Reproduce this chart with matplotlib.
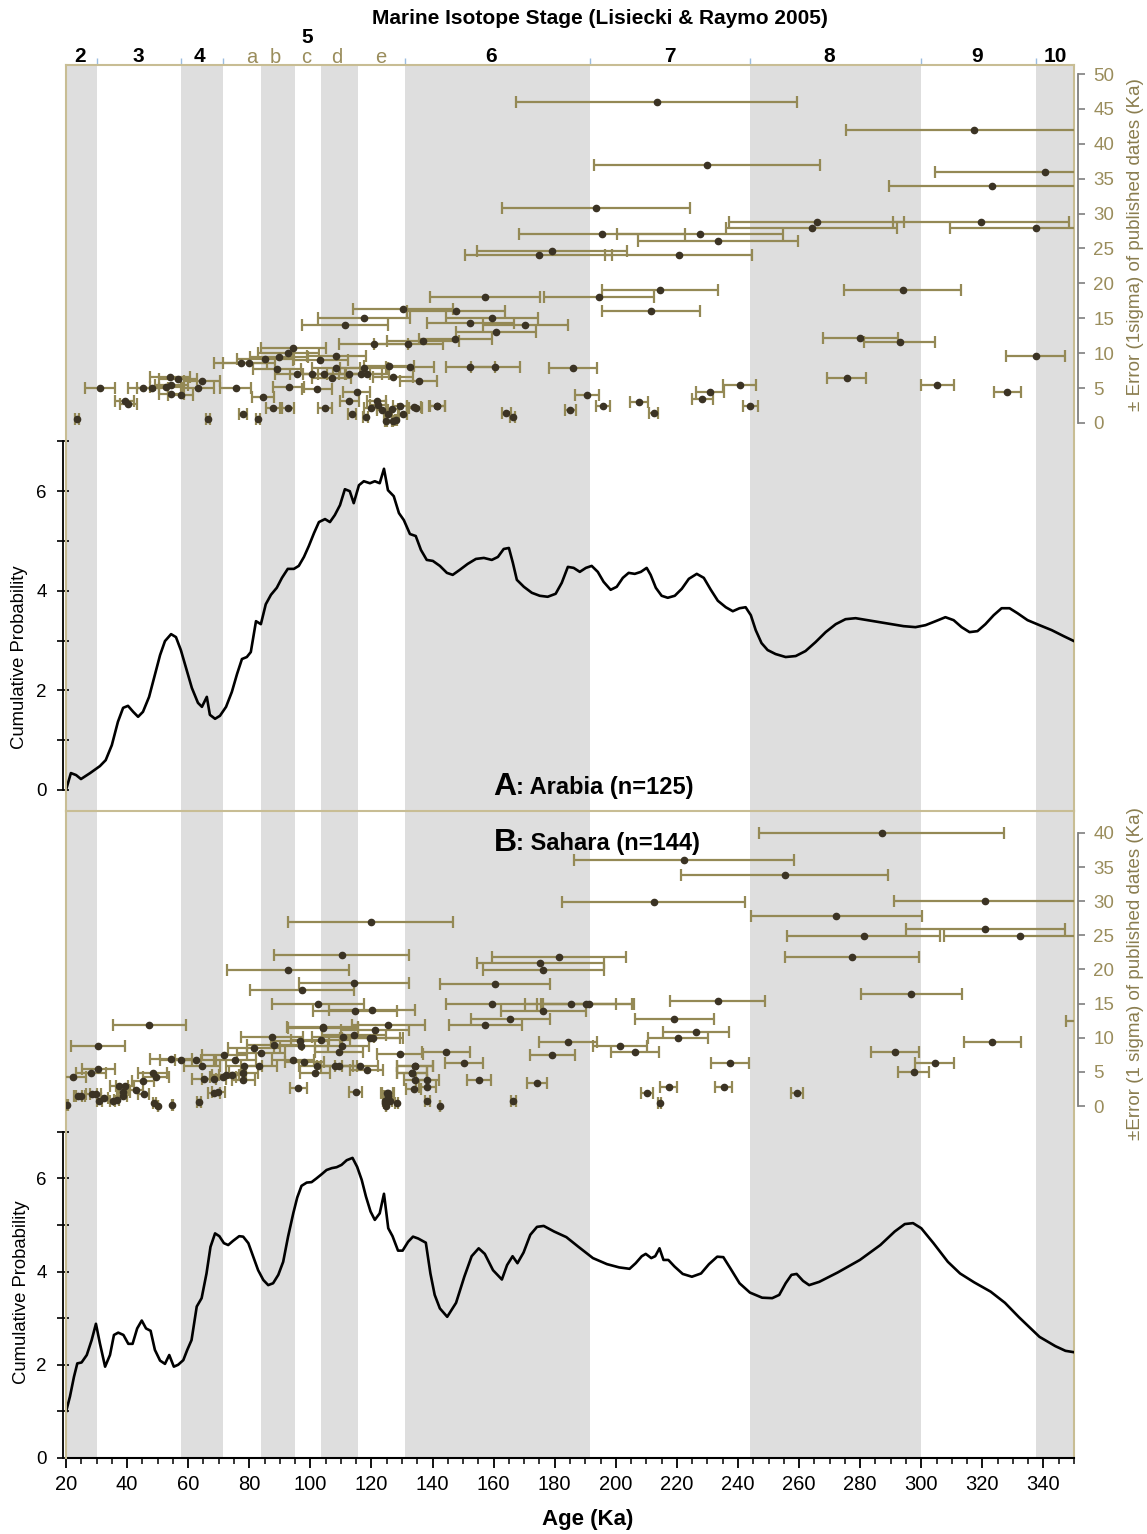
import matplotlib
matplotlib.use("Agg")
import matplotlib.pyplot as plt
import matplotlib.transforms as mtransforms

plt.rcParams['font.family'] = ['Liberation Sans', 'DejaVu Sans']

# --- cumulative probability curves (age Ka, probability) ---
age_a = [20, 21.6, 23.3, 24.9, 27.9, 31.1, 33, 35, 37, 38.7, 40.3, 42, 43.6, 45.2, 47.2, 49.1, 50.8,
         52.4, 54.4, 56, 57.6, 59.3, 61.2, 63.2, 64.5, 66.1, 67.1, 68.8, 70.4, 72.4, 74.3, 76, 77.6,
         79.2, 80.5, 82.2, 83.8, 85.4, 87.1, 89, 90.7, 92.6, 94.6, 96.2, 97.9, 99.5, 101.2, 102.8,
         104.8, 106.4, 108, 109.7, 111.3, 112.9, 114.2, 115.9, 117.5, 119.5, 121.1, 122.7, 124.1,
         125.4, 127.3, 129, 130.6, 132.6, 134.5, 136.2, 138.1, 140.1, 142.4, 144.7, 146.6, 148.9,
         151.5, 154.2, 156.8, 159.4, 161.4, 163.3, 165, 166.3, 167.6, 169.9, 172.5, 175.1, 177.7,
         180.3, 182.3, 184.3, 186.2, 188.2, 190.2, 192.1, 194.1, 196, 198.3, 200.3, 202.3, 204.2,
         206.2, 208.2, 210.1, 211.4, 213.1, 215, 217, 219.3, 221.6, 223.9, 226.5, 228.8, 231.1,
         233.4, 236, 238.3, 240.5, 242.5, 244.2, 245.8, 247.7, 249.7, 252.3, 255.6, 258.9, 262.1,
         265.4, 268.7, 272, 275.2, 278.5, 282.4, 286.4, 290.3, 294.2, 298.1, 301.4, 304.7, 307.9,
         310.6, 313.2, 315.8, 318.4, 321, 323.7, 326.3, 328.9, 331.5, 334.8, 338.7, 342.7, 346.6, 350]
prob_a = [0, 0.34, 0.3, 0.22, 0.34, 0.48, 0.6, 0.9, 1.37, 1.65, 1.69, 1.57, 1.47, 1.57, 1.87, 2.31, 2.71,
          2.99, 3.13, 3.07, 2.81, 2.45, 2.05, 1.75, 1.67, 1.87, 1.51, 1.43, 1.49, 1.67, 1.97, 2.33, 2.63,
          2.67, 2.77, 3.39, 3.33, 3.73, 3.92, 4.06, 4.26, 4.44, 4.44, 4.5, 4.68, 4.9, 5.16, 5.38,
          5.44, 5.38, 5.52, 5.72, 6.04, 6.0, 5.76, 6.12, 6.2, 6.16, 6.2, 6.16, 6.45,
          6.02, 5.9, 5.56, 5.42, 5.14, 5.1, 4.82, 4.62, 4.6, 4.5, 4.36, 4.32, 4.42,
          4.54, 4.64, 4.66, 4.62, 4.68, 4.84, 4.86, 4.56, 4.22, 4.08, 3.96, 3.9, 3.88,
          3.94, 4.16, 4.48, 4.46, 4.38, 4.46, 4.5, 4.38, 4.18, 4.02, 4.08, 4.26, 4.36,
          4.34, 4.38, 4.46, 4.32, 4.06, 3.9, 3.86, 3.9, 4.04, 4.24, 4.34, 4.26, 4.02,
          3.8, 3.67, 3.59, 3.65, 3.67, 3.51, 3.21, 2.95, 2.81, 2.73, 2.67, 2.69, 2.79,
          2.97, 3.17, 3.33, 3.43, 3.45, 3.41, 3.37, 3.33, 3.29, 3.27, 3.31, 3.39, 3.47,
          3.41, 3.27, 3.17, 3.19, 3.33, 3.51, 3.65, 3.65, 3.55, 3.41, 3.31, 3.21, 3.09, 2.99]

age_b = [20, 21.3, 22.6, 23.7, 25.1, 26.8, 28.4, 29.8, 31.1, 32.8, 34.4, 35.7, 37.1, 38.8, 40.4, 41.8,
         43.3, 44.8, 46.2, 47.7, 49.1, 50.8, 52.4, 53.8, 55.3, 56.7, 58.4, 59.7, 61.1, 62.8, 64.4, 66,
         67.3, 68.8, 70.2, 71.7, 73.1, 74.7, 76.7, 78, 79.7, 81.3, 82.9, 84.6, 86.2, 87.8, 89.5, 91.1,
         92.7, 94.4, 95.7, 97.1, 98.8, 100.4, 102, 103.7, 105.3, 107, 108.6, 110.2, 111.9, 113.8,
         115.3, 116.8, 118.2, 119.7, 121.1, 122.7, 124.1, 125.5, 126.9, 128.7, 130.2, 132, 133.6,
         135.3, 137.8, 139.3, 140.7, 142.4, 144.8, 147.7, 150.4, 152.8, 155.1, 157.1, 159.8, 162.7,
         164.4, 166.2, 167.8, 169.8, 172, 174.2, 176.4, 179.8, 183.8, 187.8, 192.5, 197.1, 201.1,
         204.5, 206.5, 208.5, 209.8, 211.6, 212.9, 214.3, 215.6, 217.2, 219.2, 221.9, 224.9, 227.9,
         230.5, 233.2, 235.2, 237.5, 240.5, 243.9, 247.9, 251.2, 253.5, 255.6, 257.5, 259.2, 261.3,
         263.3, 266.6, 272.6, 279.9, 286.6, 291.3, 294.6, 297.3, 300, 304, 308.7, 312.7, 317.3,
         322.7, 327.4, 332, 338.7, 343.9, 347.2, 350]
prob_b = [0.99, 1.32, 1.74, 2.03, 2.05, 2.21, 2.53, 2.88, 2.46, 1.96, 2.21, 2.64, 2.69, 2.64, 2.45, 2.45,
          2.78, 2.95, 2.78, 2.73, 2.32, 2.09, 2.02, 2.21, 1.96, 2.0, 2.1, 2.32, 2.53, 3.25, 3.43, 3.96,
          4.53, 4.82, 4.76, 4.61, 4.57, 4.66, 4.76, 4.75, 4.61, 4.32, 4.03, 3.82, 3.71, 3.75, 3.93, 4.21,
          4.75, 5.25, 5.59, 5.84, 5.91, 5.92, 6.0, 6.09, 6.18, 6.22, 6.24, 6.29, 6.39, 6.44,
          6.25, 5.97, 5.61, 5.29, 5.11, 5.25, 5.67, 4.93, 4.76, 4.45, 4.45, 4.64, 4.75,
          4.71, 4.62, 3.96, 3.5, 3.21, 3.03, 3.33, 3.89, 4.33, 4.5, 4.38, 4.03, 3.83,
          4.14, 4.33, 4.18, 4.41, 4.79, 4.96, 4.98, 4.86, 4.74, 4.53, 4.29, 4.16, 4.09,
          4.06, 4.18, 4.33, 4.38, 4.29, 4.33, 4.5, 4.25, 4.25, 4.11, 3.95, 3.89, 3.96,
          4.16, 4.32, 4.31, 4.07, 3.75, 3.55, 3.44, 3.43, 3.5, 3.75, 3.93, 3.95, 3.8,
          3.71, 3.78, 3.98, 4.25, 4.57, 4.86, 5.02, 5.04, 4.93, 4.61, 4.21, 3.96, 3.77,
          3.57, 3.33, 3.02, 2.6, 2.4, 2.3, 2.27]

# --- published dates: age (Ka) and 1 sigma error (Ka) ---
date_a = [213.4, 317.4, 340.4, 229.8, 323.3, 193.4, 265.7, 264.1, 319.4, 337.4, 195.4, 227.5, 233.4,
          179.0, 174.8, 220.6, 293.9, 214.6, 194.5, 157.2, 211.6, 130.2, 147.6, 159.4, 152.4, 170.4,
          160.9, 136.8, 147.5, 132.0, 120.7, 111.4, 117.5, 280.1, 292.9, 337.4, 275.6, 305.3, 328.2,
          240.5, 230.9, 228.3, 207.6, 212.4, 195.8, 185.1, 244.0, 141.6, 164.2, 166.2, 190.6, 125.8,
          132.6, 152.4, 160.5, 186.1, 127.1, 135.5,
          31.2, 23.5, 39.3, 40.4, 45.3, 48.3, 54.0, 56.6, 52.7, 54.4, 54.4, 57.5, 64.5, 63.3, 66.4,
          75.5, 77.9, 82.9, 77.2, 79.9, 85.3, 89.0, 89.7, 92.7, 94.4, 84.5, 87.8, 92.7, 92.9, 95.5,
          100.4, 102.2, 103.3, 104.5, 107.0, 108.5, 108.5, 104.8, 112.6, 116.5, 117.5, 118.6, 115.2,
          112.7, 113.5, 118.1, 121.7, 122.0, 119.7, 123.6, 125.3, 124.7, 126.9, 128.0, 126.6, 129.3,
          130.2, 134.0, 134.5, 141.5]
err_a = [46.0, 42.0, 36.0, 37.0, 34.0, 30.8, 28.8, 27.9, 28.8, 27.9, 27.1, 27.1, 26.1,
         24.6, 24.1, 24.1, 19.1, 19.0, 18.0, 18.0, 16.0, 16.4, 16.1, 15.1, 14.3, 14.0,
         13.1, 11.8, 12.0, 11.3, 11.3, 14.0, 15.1, 12.2, 11.6, 9.6, 6.4, 5.4, 4.4,
         5.5, 4.5, 3.4, 3.0, 1.5, 2.4, 1.9, 2.5, 2.5, 1.4, 0.8, 4.0, 8.2,
         8.0, 8.0, 8.0, 7.9, 6.6, 6.0,
         5.0, 0.6, 3.1, 2.7, 5.0, 5.0, 6.6, 6.3, 5.1, 5.4, 4.1, 4.0, 6.0, 5.0, 0.6,
         5.0, 1.3, 0.6, 8.6, 8.6, 9.2, 7.8, 9.4, 10.0, 10.7, 3.7, 2.2, 2.1, 5.1, 7.0,
         7.0, 4.8, 9.0, 7.0, 6.4, 9.6, 7.9, 2.2, 7.0, 7.0, 7.9, 7.0, 4.4,
         3.1, 1.3, 0.9, 3.2, 2.6, 2.2, 1.9, 1.3, 0.3, 0.3, 0.4, 2.0, 2.4,
         1.3, 2.3, 2.2, 2.5]

date_b = [287.0, 222.2, 255.3, 212.4, 321.0, 272.2, 281.1, 321.0, 332.2, 277.3, 181.3, 175.3, 176.3,
          296.8, 233.3, 291.3, 323.3, 297.5, 304.4, 360.0, 237.3,
          160.4, 159.4, 185.2, 190.4, 191.1, 176.3, 165.5, 157.3, 219.2, 226.3, 220.3, 184.4, 201.3,
          206.3, 179.2, 129.4, 144.3, 150.3, 125.5, 134.4, 133.3, 134.4, 138.3, 133.8, 138.3, 155.2,
          174.3, 217.3, 235.3, 210.3, 259.3, 214.4, 166.4, 138.3, 142.3, 125.4, 124.4, 128.2,
          20.4, 22.2, 30.6, 47.3, 30.6, 28.2, 24.0, 24.8, 28.4, 29.8, 30.9, 32.5, 35.3, 36.6, 37.3,
          39.3, 38.8, 38.6, 42.9, 45.3, 45.5, 48.4, 49.5, 48.9, 50.2, 54.8, 54.4, 57.5, 62.4, 64.6,
          63.6, 65.3, 68.4, 71.5, 69.8, 68.5, 71.8, 75.3, 72.3, 74.5, 78.1, 78.1, 78.3, 83.3, 83.8,
          88.1, 96.9, 94.4, 98.0, 102.1, 104.2, 114.6, 110.4, 109.4, 114.2, 119.5, 120.4, 101.5,
          108.0, 109.4, 116.2, 118.4, 96.1, 114.8, 125.1, 125.5, 124.4, 124.7, 126.0, 133.4, 134.2,
          119.8, 92.6, 110.3, 97.2, 114.2, 102.5, 120.1, 104.1, 110.6, 121.1, 103.4, 96.6, 81.5, 87.4]
err_b = [40.0, 36.0, 33.8, 29.9, 30.0, 27.9, 24.9, 25.9, 24.9, 21.9, 21.9, 20.9, 19.9,
         16.4, 15.4, 7.9, 9.4, 5.0, 6.3, 12.5, 6.3,
         17.9, 14.9, 14.9, 14.9, 14.9, 13.9, 12.8, 11.9, 12.8, 10.9, 9.9, 9.4, 8.8,
         7.9, 7.4, 7.6, 7.9, 6.3, 11.9, 5.9, 4.8, 3.8, 3.8, 2.5, 2.8, 3.8,
         3.3, 2.8, 2.8, 1.9, 1.9, 0.5, 0.8, 0.8, 0.0, 1.9, 0.7, 0.5,
         0.1, 4.2, 8.8, 11.9, 5.4, 4.9, 1.4, 1.5, 1.8, 1.8, 0.8, 1.1, 0.8, 0.9, 3.0,
         3.0, 2.1, 1.4, 2.3, 3.6, 1.8, 4.8, 4.2, 0.5, 0.0, 0.1, 6.9, 6.8, 6.8, 5.9,
         0.6, 3.9, 3.9, 4.2, 2.1, 1.9, 7.4, 6.8, 4.5, 4.5, 4.9, 3.8, 5.9, 5.9, 7.8,
         9.0, 8.8, 6.8, 6.4, 5.9, 11.4, 13.9, 8.8, 7.9, 10.4, 9.9, 9.9, 4.9,
         5.9, 5.9, 5.9, 5.3, 2.7, 2.0, 1.9, 1.4, 0.4, 0.0, 0.7, 4.9, 5.9,
         27.0, 19.9, 22.1, 17.0, 18.0, 14.9, 14.1, 11.6, 10.1, 11.1, 9.7, 9.5, 8.5, 10.1]

# --- marine isotope stages (glacial / sub-stage shading) ---
band_start = [14, 57.5, 84, 103.5, 131, 244, 337.5]
band_end = [30, 71.5, 95, 115.5, 191.5, 300, 374]
stage_bounds = [30, 57.5, 71.5, 131, 191.5, 244, 300, 337.5]
stage_names = ['2', '3', '4', '5', '6', '7', '8', '9', '10']
stage_pos = [24.6, 43.6, 63.8, 99.0, 159.1, 217.6, 269.7, 318.4, 344.0]
sub_names = ['a', 'b', 'c', 'd', 'e']
sub_pos = [80.9, 88.4, 98.5, 108.7, 123.1]

tan = '#c8bd94'
olive = '#948955'
dot = '#3b3324'
grey = '#dedede'

fig = plt.figure(figsize=(11.47, 15.34), dpi=100)
L, W = 66 / 1147, 1008 / 1147
axA = fig.add_axes([L, 1 - 811 / 1534, W, 746 / 1534])
axB = fig.add_axes([L, 1 - 1458 / 1534, W, 647 / 1534])

for ax in (axA, axB):
    ax.set_xlim(20, 350)
    for s, e in zip(band_start, band_end):
        ax.axvspan(s, e, color=grey, lw=0, zorder=0)

axA.plot(age_a, prob_a, color='black', lw=1.9, zorder=3)
axB.plot(age_b, prob_b, color='black', lw=1.9, zorder=3)
axA.set_ylim(-0.4217, 14.558)
axB.set_ylim(0, 13.884)

axA2 = axA.twinx()
axB2 = axB.twinx()
axA2.set_ylim(-55.59, 51.29)
axB2.set_ylim(-51.57, 43.22)
for ax2, d, e in ((axA2, date_a, err_a), (axB2, date_b, err_b)):
    ax2.errorbar(d, e, xerr=e, fmt='o', color=dot, ms=4.5, ecolor=olive,
                 elinewidth=1.6, capsize=4.5, capthick=1.6, zorder=4)
    ax2.set_xlim(20, 350)

# spines
for ax in (axA, axB):
    ax.spines['left'].set_bounds(0, 7)
    ax.spines['left'].set_position(('outward', 2))
    ax.spines['left'].set_linewidth(1.3)
    ax.spines['right'].set_color(tan)
    ax.spines['top'].set_color(tan)
    ax.spines['right'].set_linewidth(1.5)
    ax.spines['top'].set_linewidth(1.5)
    ax.set_yticks([0, 2, 4, 6])
    ax.set_yticks([1, 3, 5, 7], minor=True)
    ax.tick_params(axis='y', which='both', direction='inout', length=8, width=1.2,
                   labelsize=13.5, pad=8)
axA.spines['bottom'].set_visible(False)

for ax2, top in ((axA2, 50), (axB2, 40)):
    ax2.spines['right'].set_bounds(0, top)
    ax2.spines['right'].set_position(('outward', 3))
    ax2.spines['right'].set_color('#7f7f7f')
    ax2.spines['right'].set_linewidth(1.3)
    ax2.spines['left'].set_color(tan)
    ax2.spines['left'].set_linewidth(1.5)
    ax2.spines['top'].set_visible(False)
    ax2.spines['bottom'].set_visible(False)
    ax2.set_yticks(range(0, top + 1, 5))
    ax2.tick_params(axis='y', direction='out', length=5, width=1.2, color='#7f7f7f',
                    labelcolor='#9a8d5c', labelsize=13.5, pad=6)
    ax2.tick_params(axis='x', which='both', bottom=False, top=False,
                    labelbottom=False, labeltop=False)

# stage boundary ticks on top
axA.set_xticks(stage_bounds)
axA.tick_params(axis='x', which='both', bottom=False, labelbottom=False, top=True,
                labeltop=False, direction='out', length=5, width=1, color='#9cbde0')

# bottom age axis
axB.set_xticks(range(20, 341, 20))
axB.set_xticks(range(20, 351, 5), minor=True)
axB.tick_params(axis='x', which='major', direction='out', length=7, width=1.3, labelsize=14.5, pad=5)
axB.tick_params(axis='x', which='minor', direction='out', length=4, width=1.1)
axB.spines['bottom'].set_linewidth(1.5)

# stage labels
trans = mtransforms.blended_transform_factory(axA.transData, axA.transAxes)
for name, x in zip(stage_names, stage_pos):
    yy = 1.029 if name == '5' else 1.004
    axA.text(x, yy, name, transform=trans, ha='center', va='baseline',
             fontsize=15, fontweight='bold', clip_on=False)
for name, x in zip(sub_names, sub_pos):
    axA.text(x, 1.003, name, transform=trans, ha='center', va='baseline',
             fontsize=14.5, color='#9a8d5c', clip_on=False)

fig.text(600 / 1147, 1 - 19 / 1534, 'Marine Isotope Stage (Lisiecki & Raymo 2005)',
         ha='center', va='center', fontsize=15, fontweight='bold')

# panel titles
axA.text(0.4355, 0.032, 'A', transform=axA.transAxes, ha='center', va='center',
         fontsize=23, fontweight='bold')
axA.text(0.4465, 0.032, ': Arabia (n=125)', transform=axA.transAxes, ha='left', va='center',
         fontsize=17, fontweight='bold')
axB.text(0.4355, 0.9505, 'B', transform=axB.transAxes, ha='center', va='center',
         fontsize=23, fontweight='bold')
axB.text(0.4465, 0.9505, ': Sahara (n=144)', transform=axB.transAxes, ha='left', va='center',
         fontsize=17, fontweight='bold')

# axis labels
fig.text(20 / 1147, 1 - 657 / 1534, 'Cumulative Probability', rotation=90,
         ha='center', va='center', fontsize=13.3)
fig.text(22 / 1147, 1 - 1292 / 1534, 'Cumulative Probability', rotation=90,
         ha='center', va='center', fontsize=13.3)
fig.text(1135 / 1147, 1 - 245 / 1534, '± Error (1sigma) of published dates (Ka)', rotation=90,
         ha='center', va='center', fontsize=13.5, color='#8a7d4f')
fig.text(1135 / 1147, 1 - 974 / 1534, '±Error (1 sigma) of published dates (Ka)', rotation=90,
         ha='center', va='center', fontsize=13.5, color='#8a7d4f')
fig.text(588 / 1147, 1 - 1520 / 1534, 'Age (Ka)', ha='center', va='center',
         fontsize=16, fontweight='bold')

fig.savefig('out.png', dpi=100)
